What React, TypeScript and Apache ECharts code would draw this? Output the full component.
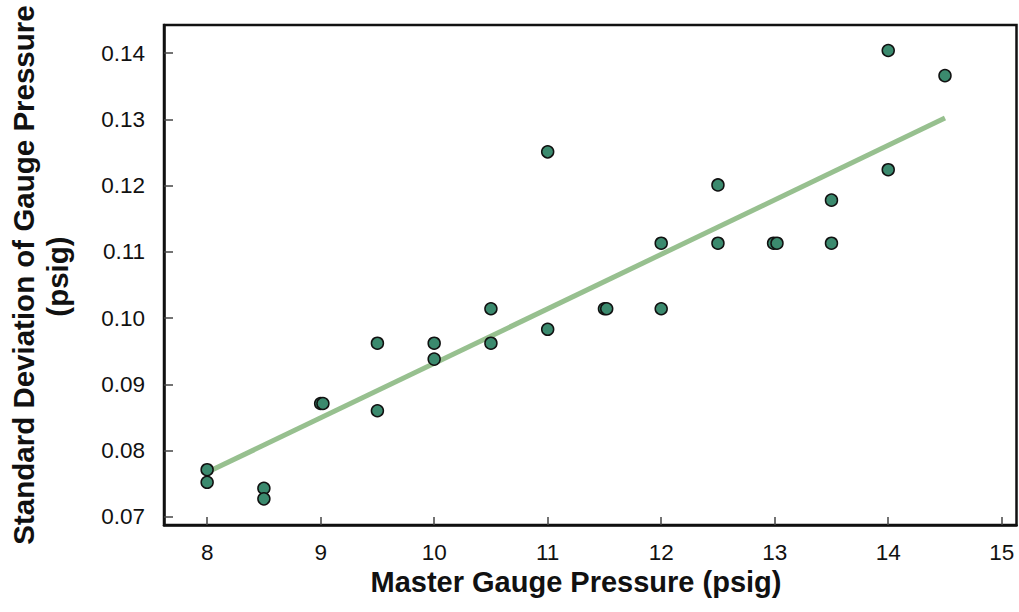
import React, { useEffect, useRef } from "react";
import * as echarts from "echarts";

const masterPressure = [8, 8, 8.5, 8.5, 9, 9.02, 9.5, 9.5, 10, 10, 10.5, 10.5, 11, 11, 11.5, 11.52, 12, 12, 12.5, 12.5, 12.99, 13.02, 13.5, 13.5, 14, 14, 14.5];
const stdDeviation = [0.0771, 0.0752, 0.0743, 0.0727, 0.0871, 0.0871, 0.0962, 0.0860, 0.0962, 0.0938, 0.1014, 0.0962, 0.1251, 0.0983, 0.1014, 0.1014, 0.1113, 0.1014, 0.1201, 0.1113, 0.1113, 0.1113, 0.1178, 0.1113, 0.1404, 0.1224, 0.1366];
const trendX = [8, 14.5];
const trendY = [0.0767, 0.1302];
const xTicks = [8, 9, 10, 11, 12, 13, 14, 15];
const yTicks = [0.07, 0.08, 0.09, 0.1, 0.11, 0.12, 0.13, 0.14];
const xTitle = "Master Gauge Pressure (psig)";
const yTitleLines = ["Standard Deviation of Gauge Pressure", "(psig)"];

export default function App() {
  const ref = useRef<HTMLDivElement>(null);
  useEffect(() => {
    if (!ref.current) return;
    const chart = echarts.init(ref.current, null, { renderer: "svg" });
    const font = "'Liberation Sans', Arial, sans-serif";
    chart.setOption({
      animation: false,
      backgroundColor: "#ffffff",
      grid: {
        left: 164,
        top: 25,
        right: 2.5,
        bottom: 87,
        show: true,
        borderColor: "#111",
        borderWidth: 2.5,
      },
      xAxis: {
        type: "value",
        min: 7.62,
        max: 15.13,
        axisLine: { show: true, lineStyle: { color: "#111", width: 2.5 } },
        axisTick: {
          show: true,
          inside: true,
          length: 8,
          lineStyle: { color: "#444", width: 1.5 },
          customValues: xTicks,
        },
        axisLabel: {
          fontSize: 22.5,
          color: "#111",
          fontFamily: font,
          margin: 16,
          customValues: xTicks,
          formatter: (v: number) => String(v),
        },
        splitLine: { show: false },
      },
      yAxis: {
        type: "value",
        min: 0.06875,
        max: 0.14425,
        axisLine: { show: true, lineStyle: { color: "#111", width: 2.5 } },
        axisTick: {
          show: true,
          inside: true,
          length: 9,
          lineStyle: { color: "#444", width: 1.5 },
          customValues: yTicks,
        },
        axisLabel: {
          fontSize: 22.5,
          color: "#111",
          fontFamily: font,
          margin: 19,
          customValues: yTicks,
          formatter: (v: number) => v.toFixed(2),
        },
        splitLine: { show: false },
      },
      graphic: [
        {
          type: "text",
          x: 576,
          y: 582,
          style: {
            text: xTitle,
            font: `bold 29px ${font}`,
            fill: "#111",
            align: "center",
            verticalAlign: "middle",
          },
        },
        {
          type: "text",
          x: 23,
          y: 275,
          rotation: Math.PI / 2,
          style: {
            text: yTitleLines[0],
            font: `bold 29.5px ${font}`,
            fill: "#111",
            align: "center",
            verticalAlign: "middle",
          },
        },
        {
          type: "text",
          x: 57.5,
          y: 276.5,
          rotation: Math.PI / 2,
          style: {
            text: yTitleLines[1],
            font: `bold 29.5px ${font}`,
            fill: "#111",
            align: "center",
            verticalAlign: "middle",
          },
        },
      ],
      series: [
        {
          type: "line",
          data: trendX.map((x, i) => [x, trendY[i]]),
          symbol: "none",
          lineStyle: { color: "#97c08f", width: 5 },
          z: 2,
        },
        {
          type: "scatter",
          data: masterPressure.map((x, i) => [x, stdDeviation[i]]),
          symbolSize: 12,
          itemStyle: { color: "#3b8a6e", borderColor: "#111", borderWidth: 1.5, opacity: 1 },
          z: 3,
        },
      ],
    });
    return () => chart.dispose();
  }, []);
  return <div ref={ref} style={{ width: 1019, height: 612, position: "absolute", left: 0, top: 0 }} />;
}
